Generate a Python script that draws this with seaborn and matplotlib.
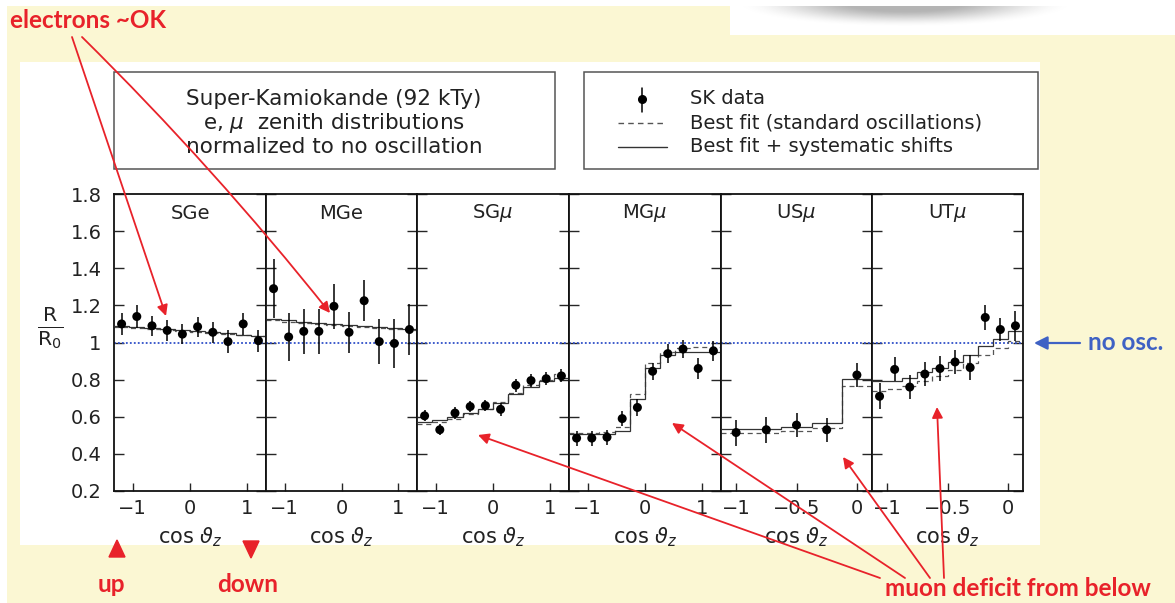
import numpy as np
import pandas as pd
import matplotlib
matplotlib.use("Agg")
import matplotlib.pyplot as plt
from matplotlib.patches import Rectangle, Polygon
from matplotlib.lines import Line2D
import seaborn as sns

W, H = 1175, 603
sns.set_style("white")
plt.rcParams["font.family"] = ["DejaVu Sans"]
plt.rcParams["mathtext.fontset"] = "dejavusans"

# ---------------- data ----------------
panel_titles = ["SGe", "MGe", r"SG$\mu$", r"MG$\mu$", r"US$\mu$", r"UT$\mu$"]

# cos(zenith) bin edges on the drawn scale
gev_edges = np.linspace(-1.325, 1.325, 11)
upstop_edges = np.linspace(-1.125, 0.125, 6)
upthru_edges = np.linspace(-1.125, 0.125, 11)

gev_ticks = [-1, 0, 1]
gev_ticklabels = ["\u22121", "0", "1"]
up_ticks = [-1, -0.5, 0]
up_ticklabels = ["\u22121", "\u22120.5", "0"]

y_ticks = [0.2, 0.4, 0.6, 0.8, 1.0, 1.2, 1.4, 1.6, 1.8]
y_ticklabels = ["0.2", "0.4", "0.6", "0.8", "1", "1.2", "1.4", "1.6", "1.8"]

sge_ratio = [1.10, 1.14, 1.09, 1.065, 1.045, 1.085, 1.055, 1.005, 1.10, 1.01]
sge_err = [0.06, 0.06, 0.055, 0.055, 0.055, 0.055, 0.055, 0.06, 0.06, 0.06]
sge_fit_sys = [1.09, 1.085, 1.08, 1.075, 1.068, 1.062, 1.056, 1.05, 1.043, 1.037]
sge_fit_std = [1.085, 1.08, 1.074, 1.069, 1.063, 1.057, 1.051, 1.045, 1.039, 1.033]

mge_ratio = [1.29, 1.03, 1.06, 1.06, 1.195, 1.055, 1.225, 1.005, 0.995, 1.07]
mge_err = [0.16, 0.13, 0.12, 0.12, 0.12, 0.11, 0.11, 0.12, 0.13, 0.14]
mge_fit_sys = [1.125, 1.12, 1.112, 1.105, 1.098, 1.092, 1.088, 1.085, 1.08, 1.075]
mge_fit_std = [1.12, 1.113, 1.106, 1.10, 1.093, 1.087, 1.083, 1.079, 1.074, 1.07]

sgm_ratio = [0.605, 0.53, 0.62, 0.655, 0.66, 0.64, 0.77, 0.795, 0.805, 0.82]
sgm_err = [0.03, 0.03, 0.03, 0.03, 0.03, 0.035, 0.035, 0.035, 0.035, 0.035]
sgm_fit_sys = [0.57, 0.58, 0.60, 0.62, 0.64, 0.675, 0.72, 0.76, 0.79, 0.81]
sgm_fit_std = [0.56, 0.57, 0.59, 0.615, 0.64, 0.68, 0.73, 0.77, 0.80, 0.83]

mgm_ratio = [0.485, 0.485, 0.49, 0.59, 0.65, 0.845, 0.94, 0.965, 0.86, 0.955]
mgm_err = [0.04, 0.04, 0.04, 0.04, 0.045, 0.045, 0.05, 0.05, 0.055, 0.055]
mgm_fit_sys = [0.505, 0.505, 0.505, 0.525, 0.695, 0.865, 0.93, 0.95, 0.95, 0.95]
mgm_fit_std = [0.51, 0.51, 0.52, 0.545, 0.72, 0.89, 0.95, 0.97, 0.975, 0.975]

usm_ratio = [0.515, 0.53, 0.555, 0.53, 0.825]
usm_err = [0.07, 0.07, 0.065, 0.065, 0.065]
usm_fit_sys = [0.535, 0.535, 0.545, 0.568, 0.805]
usm_fit_std = [0.515, 0.515, 0.525, 0.54, 0.765]

utm_ratio = [0.71, 0.855, 0.76, 0.83, 0.86, 0.895, 0.865, 1.135, 1.07, 1.09]
utm_err = [0.07, 0.065, 0.065, 0.065, 0.065, 0.065, 0.065, 0.065, 0.06, 0.08]
utm_fit_sys = [0.79, 0.79, 0.81, 0.84, 0.865, 0.895, 0.935, 0.98, 1.02, 1.06]
utm_fit_std = [0.74, 0.75, 0.765, 0.79, 0.82, 0.85, 0.89, 0.93, 0.97, 1.01]

panels = [
    (gev_edges, sge_ratio, sge_err, sge_fit_sys, sge_fit_std, gev_ticks, gev_ticklabels),
    (gev_edges, mge_ratio, mge_err, mge_fit_sys, mge_fit_std, gev_ticks, gev_ticklabels),
    (gev_edges, sgm_ratio, sgm_err, sgm_fit_sys, sgm_fit_std, gev_ticks, gev_ticklabels),
    (gev_edges, mgm_ratio, mgm_err, mgm_fit_sys, mgm_fit_std, gev_ticks, gev_ticklabels),
    (upstop_edges, usm_ratio, usm_err, usm_fit_sys, usm_fit_std, up_ticks, up_ticklabels),
    (upthru_edges, utm_ratio, utm_err, utm_fit_sys, utm_fit_std, up_ticks, up_ticklabels),
]

# ---------------- layout ----------------
YELLOW = "#FBF7D3"
RED = "#E8222A"
BLUE = "#3F62C4"
DOTBLUE = "#2F4FC8"
TXT = "#222222"

fig = plt.figure(figsize=(W / 100, H / 100), dpi=100)
fig.patch.set_facecolor(YELLOW)


def fig_box(x0, y0, x1, y1):
    return [x0 / W, 1 - y1 / H, (x1 - x0) / W, (y1 - y0) / H]


# background layer in pixel coordinates
bg = fig.add_axes([0, 0, 1, 1], zorder=0)
bg.set_xlim(0, W)
bg.set_ylim(H, 0)
bg.axis("off")
bg.add_patch(Rectangle((0, 0), W, 6, color="white", lw=0))
bg.add_patch(Rectangle((0, 0), 7, H, color="white", lw=0))
bg.add_patch(Rectangle((730, 0), W - 730, 35, color="white", lw=0))
bg.add_patch(Rectangle((20, 62), 1020, 483, color="white", lw=0))

# soft grey shadow in the top-right corner
gx = np.linspace(740, 1080, 340)
gy = np.linspace(6, 35, 60)
GX, GY = np.meshgrid(gx, gy)
shade = 1 - ((GX - 905) / 170) ** 2 - ((GY - 3) / 24) ** 2
shade = np.clip(shade, 0, None) ** 2.0
rgba = np.zeros(shade.shape + (4,))
rgba[..., :3] = 0.55
rgba[..., 3] = np.clip(0.85 * shade, 0, 0.65)
bg.imshow(rgba, extent=(740, 1080, 35, 6), aspect="auto", interpolation="bilinear", zorder=1)

# header boxes
bg.add_patch(Rectangle((114, 72), 441, 97, fill=False, ec="#555555", lw=1.1))
bg.add_patch(Rectangle((584, 72), 454, 97, fill=False, ec="#555555", lw=1.1))

for yy, line in zip([99, 123, 147],
                    ["Super-Kamiokande (92 kTy)",
                     r"e, $\mu$  zenith distributions",
                     "normalized to no oscillation"]):
    bg.text(334, yy, line, ha="center", va="center", fontsize=15.5, color=TXT)

# legend keys
bg.add_line(Line2D([642, 642], [88, 112], color="black", lw=1.1))
bg.plot([642], [99], "o", color="black", ms=5.5)
bg.add_line(Line2D([618, 664], [123, 123], color="#555555", lw=1.0, ls=(0, (4, 3))))
bg.add_line(Line2D([618, 667], [147, 147], color="#333333", lw=1.0))
for yy, line in zip([99, 123, 147],
                    ["SK data", "Best fit (standard oscillations)",
                     "Best fit + systematic shifts"]):
    bg.text(690, yy, line, ha="left", va="center", fontsize=14, color=TXT)

# ---------------- panels ----------------
edges_px = [114, 266, 417, 569, 721, 872, 1023]
for i, (edges, ratio, err, fit_sys, fit_std, xt, xtl) in enumerate(panels):
    ax = fig.add_axes(fig_box(edges_px[i], 194, edges_px[i + 1], 491), zorder=2)
    ax.set_facecolor("white")
    centers = 0.5 * (edges[:-1] + edges[1:])
    df = pd.DataFrame({"cos": centers, "ratio": ratio, "err": err})

    ax.axhline(1.0, color=DOTBLUE, ls=(0, (1, 1.2)), lw=1.3, zorder=1)
    ax.stairs(fit_std, edges, baseline=None, color="#555555", lw=0.9,
              ls=(0, (4, 3)), zorder=2)
    ax.stairs(fit_sys, edges, baseline=None, color="#333333", lw=0.9, zorder=3)
    ax.errorbar(df["cos"], df["ratio"], yerr=df["err"], fmt="none",
                ecolor="black", elinewidth=1.1, capsize=0, zorder=4)
    sns.scatterplot(data=df, x="cos", y="ratio", ax=ax, color="black", s=42,
                    edgecolor="none", zorder=5, legend=False)

    ax.set_xlim(edges[0], edges[-1])
    ax.set_ylim(0.2, 1.8)
    ax.set_yticks(y_ticks)
    ax.set_xticks(xt)
    ax.set_xticklabels(xtl, fontsize=14, color=TXT)
    if i == 0:
        ax.set_yticklabels(y_ticklabels, fontsize=14, color=TXT)
    else:
        ax.set_yticklabels([])
    ax.tick_params(axis="y", which="both", direction="in", length=7, width=1,
                   left=True, right=True, pad=9)
    ax.tick_params(axis="x", direction="in", length=6, width=1, bottom=True,
                   pad=6)
    for s in ax.spines.values():
        s.set_linewidth(1.3)
        s.set_color("#111111")
    ax.set_xlabel(r"cos $\vartheta_z$", fontsize=15, color=TXT, labelpad=5)
    ax.set_ylabel("")
    ax.text(0.5, 0.935, panel_titles[i], transform=ax.transAxes, ha="center",
            va="center", fontsize=14, color=TXT)

# ---------------- annotation layer ----------------
ov = fig.add_axes([0, 0, 1, 1], zorder=10)
ov.set_xlim(0, W)
ov.set_ylim(H, 0)
ov.axis("off")
ov.patch.set_alpha(0)

ov.text(50, 328, r"$\frac{\mathrm{R}}{\mathrm{R_0}}$", ha="center", va="center",
        fontsize=21, color=TXT)

red_font = dict(color=RED, fontsize=17.5, fontweight="bold",
                family=["Lato", "DejaVu Sans"])
ov.text(10, 20, "electrons ~OK", ha="left", va="center", **red_font)
ov.text(885, 588, "muon deficit from below", ha="left", va="center", **red_font)
ov.text(111, 585, "up", ha="center", va="center", **red_font)
ov.text(248, 585, "down", ha="center", va="center", **red_font)

arrow = dict(arrowstyle="-|>", color=RED, lw=1.3, mutation_scale=16,
             shrinkA=0, shrinkB=0)
ov.annotate("", xy=(166, 316), xytext=(72, 37), arrowprops=arrow)
ov.annotate("", xy=(330, 313), xytext=(82, 37),
            arrowprops=dict(arrow, connectionstyle="arc3,rad=-0.03"))
for start, end in [((880, 578), (478, 435)), ((905, 578), (672, 423)),
                   ((930, 578), (843, 457)), ((944, 578), (937, 407))]:
    ov.annotate("", xy=end, xytext=start, arrowprops=arrow)

ov.add_patch(Polygon([[109, 557], [125, 557], [117, 540]], closed=True, color=RED))
ov.add_patch(Polygon([[243, 541], [259, 541], [251, 558]], closed=True, color=RED))

ov.annotate("", xy=(1034, 343), xytext=(1080, 343),
            arrowprops=dict(arrowstyle="-|>", color=BLUE, lw=1.6,
                            mutation_scale=20, shrinkA=0, shrinkB=0))
ov.text(1088, 343, "no osc.", ha="left", va="center", color=BLUE, fontsize=17.5,
        fontweight="bold", family=["Lato", "DejaVu Sans"])

fig.savefig("out.png", dpi=100, facecolor=fig.get_facecolor())
